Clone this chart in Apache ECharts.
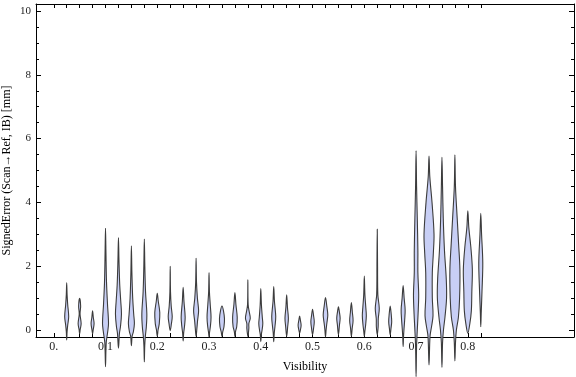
<!DOCTYPE html>
<html>
  <head>
    <meta charset="utf-8" />
  </head>
  <body style="margin: 0; overflow: hidden">
    <div id="container" style="width: 576px; height: 377px"></div>
    <script type="text/javascript" src="https://cdn.jsdelivr.net/npm/echarts@6/dist/echarts.min.js"></script>
    <script type="text/javascript">
      // visibility of each violin
      const positions = [
        0.025, 0.05, 0.075, 0.1, 0.125, 0.15, 0.175, 0.2, 0.225, 0.25, 0.275,
        0.3, 0.325, 0.35, 0.375, 0.4, 0.425, 0.45, 0.475, 0.5, 0.525, 0.55,
        0.575, 0.6, 0.625, 0.65, 0.675, 0.7, 0.725, 0.75, 0.775, 0.8, 0.825,
      ]
      // violin outline: [signed error, density], top to bottom
      const profiles = [
        [[1.48, 0], [1.1, 0.4], [0.8, 1], [0.42, 2], [0.15, 1], [-0.05, 0.4], [-0.31, 0]],
        [[0.99, 0], [0.75, 1], [0.5, 0.4], [0.2, 1.5], [0, 0.5], [-0.12, 0]],
        [[0.6, 0], [0.4, 0.7], [0.2, 1.5], [0, 0.6], [-0.12, 0]],
        [[3.19, 0], [2.5, 0.4], [1.5, 1], [0.8, 2], [0.2, 3], [-0.1, 2], [-0.4, 0.7], [-1.15, 0]],
        [[2.9, 0], [2.2, 0.5], [1.4, 1.3], [0.9, 2.3], [0.5, 3], [0.1, 2], [-0.1, 1], [-0.57, 0]],
        [[2.64, 0], [1.8, 0.5], [1.0, 1.3], [0.5, 2.3], [0.2, 3], [-0.05, 2], [-0.2, 0.7], [-0.49, 0]],
        [[2.85, 0], [2.0, 0.5], [1.2, 1.2], [0.5, 2.5], [0.1, 2], [-0.2, 1], [-0.5, 0.4], [-1.0, 0]],
        [[1.15, 0], [0.9, 1], [0.55, 2.5], [0.2, 2], [0, 0.8], [-0.2, 0]],
        [[2.0, 0], [1.2, 0.3], [0.75, 1], [0.42, 2], [0.2, 1.2], [-0.02, 0]],
        [[1.34, 0], [0.9, 0.8], [0.4, 2], [0.1, 1.3], [-0.1, 0.5], [-0.34, 0]],
        [[2.25, 0], [1.5, 0.4], [1.0, 1.3], [0.6, 2.5], [0.3, 1.5], [0.05, 0.8], [-0.2, 0]],
        [[1.8, 0], [1.2, 0.4], [0.8, 1.2], [0.4, 2], [0.1, 1.3], [-0.1, 0.4], [-0.22, 0]],
        [[0.75, 0], [0.6, 1.5], [0.35, 2.5], [0.1, 2], [-0.05, 0.8], [-0.2, 0]],
        [[1.17, 0], [0.8, 1], [0.4, 2.3], [0.1, 1.8], [-0.05, 0.6], [-0.2, 0]],
        [[1.57, 0], [0.8, 0.3], [0.55, 1.5], [0.37, 2.4], [0.2, 1], [0.05, 1], [-0.2, 0]],
        [[1.3, 0], [0.8, 0.6], [0.4, 1.5], [0.2, 2], [0, 1.3], [-0.15, 0.5], [-0.37, 0]],
        [[1.36, 0], [0.9, 0.7], [0.42, 2], [0.1, 1.2], [-0.1, 0.5], [-0.37, 0]],
        [[1.1, 0], [0.7, 0.8], [0.37, 1.7], [0.1, 1], [-0.2, 0]],
        [[0.44, 0], [0.3, 0.8], [0.15, 1.5], [0, 0.8], [-0.1, 0]],
        [[0.65, 0], [0.45, 1], [0.26, 1.7], [0.05, 1], [-0.15, 0]],
        [[1.02, 0], [0.75, 1.3], [0.47, 2.3], [0.2, 1.3], [0, 0.6], [-0.22, 0]],
        [[0.73, 0], [0.55, 1], [0.37, 1.7], [0.15, 1], [-0.15, 0]],
        [[0.86, 0], [0.55, 1], [0.3, 1.7], [0.05, 0.8], [-0.2, 0]],
        [[1.69, 0], [1.1, 0.6], [0.7, 1.5], [0.45, 2], [0.15, 1.3], [-0.05, 0.5], [-0.2, 0]],
        [[3.16, 0], [2.0, 0.3], [1.1, 0.6], [0.68, 2], [0.35, 1], [0.1, 0.9], [-0.15, 0]],
        [[0.75, 0], [0.5, 1], [0.26, 1.5], [0.05, 0.8], [-0.15, 0]],
        [[1.39, 0], [1.0, 1], [0.63, 2], [0.3, 1.5], [0, 0.8], [-0.2, 0.4], [-0.52, 0]],
        [[5.62, 0], [4.5, 0.5], [3.5, 1.2], [2.5, 1.8], [1.8, 1.8], [1.1, 2.6], [0.5, 2], [0, 1.2], [-0.5, 0.5], [-1.46, 0]],
        [[5.45, 0], [4.8, 0.8], [4.0, 3], [3.0, 5], [2.4, 4.3], [1.8, 3.3], [1.0, 3.3], [0.45, 4], [0.1, 2.5], [-0.2, 1], [-1.1, 0]],
        [[5.41, 0], [4.5, 0.6], [3.5, 1.3], [2.5, 2.5], [1.6, 4.3], [1.0, 4.6], [0.4, 3], [0, 1.5], [-0.4, 0.6], [-1.17, 0]],
        [[5.49, 0], [4.5, 0.6], [3.5, 2.3], [2.7, 3.7], [1.9, 5], [1.0, 4.7], [0.4, 3.5], [0, 1.5], [-0.4, 0.6], [-0.97, 0]],
        [[3.74, 0], [3.2, 1], [2.6, 3], [1.9, 4.5], [1.2, 4], [0.6, 3.5], [0.2, 2], [-0.1, 0]],
        [[3.66, 0], [3.0, 0.8], [2.1, 2], [1.2, 1.2], [0.5, 0.4], [0.1, 0]],
      ]
      const xTicks = positions.concat([0]).sort((a, b) => a - b)
      const xLabels = [0, 0.1, 0.2, 0.3, 0.4, 0.5, 0.6, 0.7, 0.8]
      const yMajor = [0, 2, 4, 6, 8, 10]
      const yMinor = [0.5, 1, 1.5, 2.5, 3, 3.5, 4.5, 5, 5.5, 6.5, 7, 7.5, 8.5, 9, 9.5]

      const FONT = 'Liberation Serif'
      const X_MIN = -0.0343
      const X_MAX = 1.0051
      const Y_MIN = -0.22
      const Y_MAX = 10.22

      const dom = document.getElementById('container')
      const myChart = echarts.init(dom, null, { renderer: 'canvas' })

      function renderItem(params, api) {
        const prof = profiles[params.dataIndex]
        const x = api.value(0)
        const right = []
        const left = []
        prof.forEach(([e, d]) => {
          const p = api.coord([x, e])
          right.push([p[0] + d, p[1]])
          if (d > 0) left.unshift([p[0] - d, p[1]])
        })
        return {
          type: 'polygon',
          shape: { points: right.concat(left), smooth: 0.35 },
          style: { fill: '#c8cff5', stroke: '#3c3c3c', lineWidth: 1.1 },
        }
      }

      function xAxisOf(pos, labels) {
        return {
          type: 'value',
          position: pos,
          min: X_MIN,
          max: X_MAX,
          axisLine: { show: true, onZero: false, lineStyle: { color: '#000', width: 1 } },
          axisTick: { show: true, inside: true, length: 4, customValues: xTicks, lineStyle: { color: '#000' } },
          axisLabel: labels
            ? {
                show: true,
                customValues: xLabels,
                margin: 4,
                color: '#222',
                fontFamily: FONT,
                fontSize: 12,
                formatter: (v) => (v === 0 ? '0.' : String(+v.toFixed(1))),
              }
            : { show: false },
          splitLine: { show: false },
          name: labels ? 'Visibility' : '',
          nameLocation: 'middle',
          nameGap: 24,
          nameMoveOverlap: false,
          nameTextStyle: { color: '#000', fontFamily: FONT, fontSize: 12 },
        }
      }

      function yAxisOf(pos, values, len, line, labels) {
        return {
          type: 'value',
          position: pos,
          min: Y_MIN,
          max: Y_MAX,
          axisLine: { show: line, onZero: false, lineStyle: { color: '#000', width: 1 } },
          axisTick: { show: true, inside: true, length: len, customValues: values, lineStyle: { color: '#000' } },
          axisLabel: labels
            ? { show: true, customValues: yMajor, margin: 5, color: '#222', fontFamily: FONT, fontSize: 11 }
            : { show: false },
          splitLine: { show: false },
          name: labels ? 'SignedError (Scan\u2192Ref, IB) [mm]' : '',
          nameLocation: 'middle',
          nameRotate: 90,
          nameGap: 23,
          nameMoveOverlap: false,
          nameTextStyle: { color: '#000', fontFamily: FONT, fontSize: 12 },
        }
      }

      const option = {
        animation: false,
        grid: { left: 36, right: 2, top: 4, bottom: 40, containLabel: false, outerBoundsMode: 'none' },
        xAxis: [xAxisOf('bottom', true), xAxisOf('top', false)],
        yAxis: [
          yAxisOf('left', yMajor, 5, true, true),
          yAxisOf('left', yMinor, 3, false, false),
          yAxisOf('right', yMajor, 5, true, false),
          yAxisOf('right', yMinor, 3, false, false),
        ],
        series: [
          {
            type: 'custom',
            xAxisIndex: 0,
            yAxisIndex: 0,
            clip: false,
            renderItem: renderItem,
            encode: { x: 0, y: 1 },
            data: positions.map((p) => [p, 0]),
            z: 3,
          },
        ],
      }
      myChart.setOption(option)
      window.addEventListener('resize', myChart.resize)
    </script>
  </body>
</html>
